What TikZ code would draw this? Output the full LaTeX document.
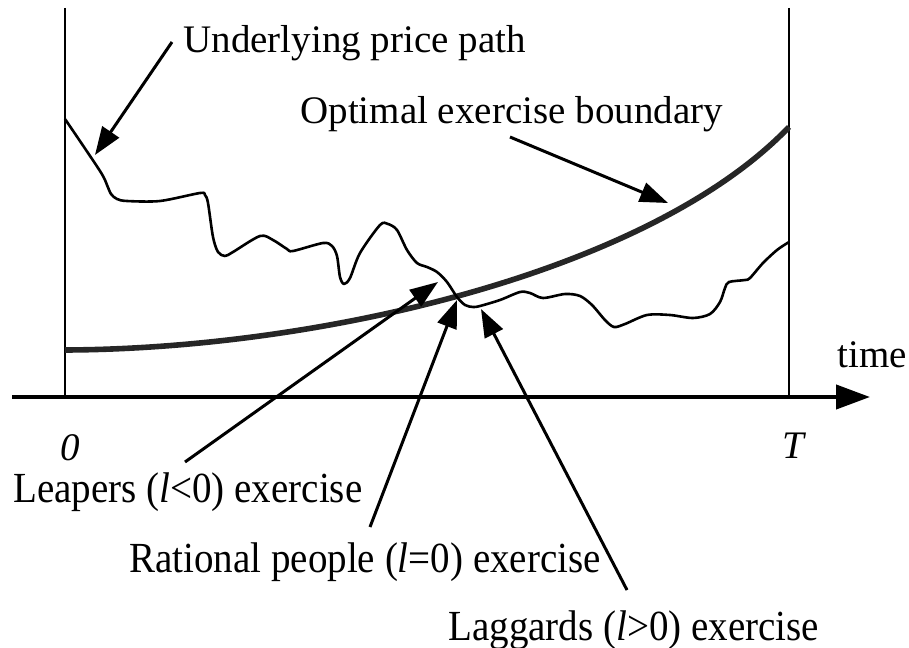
\documentclass[tikz,border=0pt]{standalone}
\usepackage{fontspec}
\setmainfont{Liberation Serif}
\usetikzlibrary{arrows.meta}
\definecolor{bnd}{HTML}{262626}
\begin{document}
\begin{tikzpicture}[x=0.5pt,y=-0.5pt,
  lbl/.style={font=\fontsize{19.5}{23}\selectfont, inner sep=0pt, anchor=base west},
  blbl/.style={lbl, xscale=1.0, yscale=1.1},
  frame/.style={line width=1.35pt},
  axis/.style={line width=2.1pt, -{Triangle[length=17pt,width=12pt]}},
  pricepath/.style={line width=1.3pt, line join=round},
  boundary/.style={line width=2.8pt, draw=bnd},
  ptr/.style={line width=1.5pt, -{Triangle[length=14pt,width=10pt]}}]
\useasboundingbox (0,0) rectangle (909,647);
% frame lines
\coordinate (LT) at (65,8); \coordinate (LB) at (65,397);
\coordinate (RT) at (789,8); \coordinate (RB) at (789,397);
\coordinate (AX0) at (12,397); \coordinate (AX1) at (870,397);
\draw[frame] (LT) -- (LB);
\draw[frame] (RT) -- (RB);
\draw[axis] (AX0) -- (AX1);
% boundary
\coordinate (B0) at (65,350); \coordinate (B1) at (789,127);
\draw[boundary] (B0) .. controls (320,349) and (650,272) .. (B1);
% price path
\draw[pricepath] plot[smooth, tension=0.5] coordinates {
 (65,119) (100,171) (107,185) (111,194) (117,199) (127,201) (160,201) (200,193) (205,195)
 (208,203) (213,237) (218,252) (225,256) (233,252) (260,236) (273,240) (287,249) (293,251)
 (323,243) (332,246) (337,256) (340,277) (344,284) (350,278) (360,253) (380,225) (388,224)
 (397,230) (407,250) (417,263) (427,267) (437,272) (447,282) (457,297) (465,305) (473,307)
 (480,306) (500,300) (520,292) (530,293) (543,298) (565,294) (580,296) (592,305) (605,320)
 (614,327) (625,324) (647,315) (670,315) (693,318) (710,314) (720,302) (725,288) (729,282)
 (745,280) (750,278) (763,263) (777,250) (789,242)};
% labels
\node[lbl] (up) at (183,53) {Underlying price path};
\node[lbl] (oeb) at (300,123) {Optimal exercise boundary};
\node[lbl] (time) at (837,367) {time};
\node[lbl] (zero) at (60,460) {\itshape 0};
\node[lbl] (tT) at (782,458) {\itshape T};
\node[blbl] (leap) at (13,502) {Leapers (\textit{l}<0) exercise};
\node[blbl] (rat) at (129,572) {Rational people (\textit{l}=0) exercise};
\node[blbl] (lag) at (448,640) {Laggards (\textit{l}>0) exercise};
% pointer coordinates
\coordinate (upT) at (172,42);  \coordinate (upH) at (95,155);
\coordinate (oeT) at (510,137); \coordinate (oeH) at (668,203);
\coordinate (lpT) at (185,462); \coordinate (lpH) at (438,282);
\coordinate (raT) at (370,527); \coordinate (raH) at (457,300);
\coordinate (lgT) at (627,590); \coordinate (lgH) at (481,309);
\draw[ptr] (upT) -- (upH);
\draw[ptr] (oeT) -- (oeH);
\draw[ptr] (lpT) -- (lpH);
\draw[ptr] (raT) -- (raH);
\draw[ptr] (lgT) -- (lgH);
\end{tikzpicture}
\end{document}
